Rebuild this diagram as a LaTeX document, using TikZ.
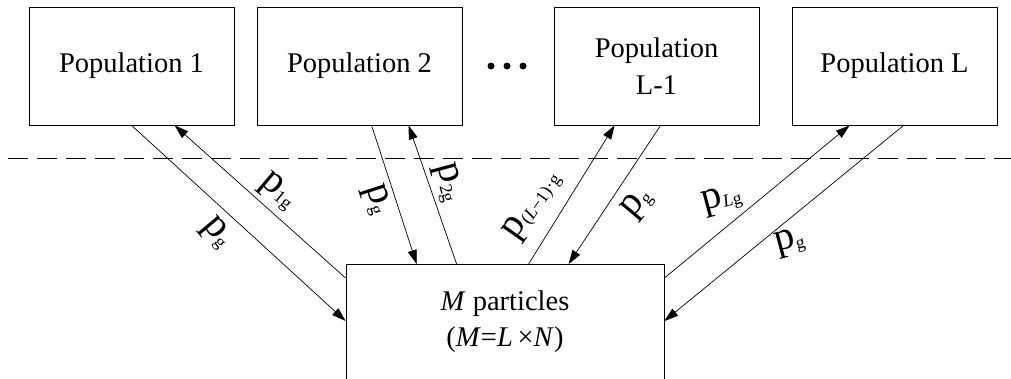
\documentclass[tikz,border=0pt]{standalone}
\usepackage{fontspec}
\setmainfont{Liberation Serif}
\usetikzlibrary{arrows.meta}
\newcommand\plab[1]{{\fontsize{40}{40}\selectfont p}\raisebox{-3pt}{\fontsize{18}{18}\selectfont #1}}
\begin{document}
\begin{tikzpicture}[x=1pt,y=-1pt,
  popbox/.style={draw, line width=0.8pt, minimum width=205pt, minimum height=118pt, inner sep=0pt, align=center,
    font=\fontsize{28.5}{37}\selectfont},
  conn/.style={line width=0.7pt, -{Triangle[length=14pt,width=9pt]}},
  lbl/.style={inner sep=0pt},
  dotnode/.style={circle, fill=black, inner sep=0pt, minimum size=7pt}]
\clip (0,0) rectangle (1011,378);
\fill[white] (0,0) rectangle (1011,378);
\node[popbox] (p1) at (131.5,66) {Population 1};
\node[popbox] (p2) at (359.5,66) {Population 2};
\node[popbox] (p3) at (656.5,66) {Population\\L-1};
\node[popbox] (p4) at (894.5,66) {Population L};
\node[dotnode] (d1) at (491,66) {};
\node[dotnode] (d2) at (507,66) {};
\node[dotnode] (d3) at (523,66) {};
\coordinate (dl) at (8,158);
\coordinate (dr) at (1011,158);
\draw[line width=0.7pt, dash pattern=on 20pt off 9pt] (dl) -- (dr);
\node[draw, line width=0.8pt, minimum width=318pt, minimum height=150pt, anchor=north] (mp) at (505,264) {};
\node[align=center, inner sep=0pt, font=\fontsize{28.5}{36}\selectfont] (mptext) at (505,322)
  {\textit{M} particles\\(\textit{M}=\textit{L}\,×\textit{N})};
% connectors
\draw[conn] ([xshift=103pt]p1.south west) -- ([yshift=-57pt]mp.north west);
\draw[conn] ([yshift=-14pt]mp.north west) -- ([xshift=146pt]p1.south west);
\draw[conn] ([xshift=115pt]p2.south west) -- ([xshift=71pt]mp.north west);
\draw[conn] ([xshift=111pt]mp.north west) -- ([xshift=152pt]p2.south west);
\draw[conn] ([xshift=183pt]mp.north west) -- ([xshift=61pt]p3.south west);
\draw[conn] ([xshift=107pt]p3.south west) -- ([xshift=223pt]mp.north west);
\draw[conn] ([yshift=-14pt]mp.north east) -- ([xshift=58pt]p4.south west);
\draw[conn] ([xshift=112pt]p4.south west) -- ([yshift=-57pt]mp.north east);
% labels
\node[lbl, rotate=-50] (l1) at (216,233) {\plab{g}};
\node[lbl, rotate=-40] (l2) at (277,192) {\plab{1g}};
\node[lbl, rotate=-72] (l3) at (376,200) {\plab{g}};
\node[lbl, rotate=-75] (l4) at (447,183) {\plab{2g}};
\node[lbl, rotate=55] (l5) at (533,206) {\plab{(\textit{L}−1)·g}};
\node[lbl, rotate=50] (l6) at (638,204) {\plab{g}};
\node[lbl, rotate=15] (l7) at (722,200) {\plab{\textit{L}g}};
\node[lbl, rotate=15] (l8) at (790,243) {\plab{g}};
\end{tikzpicture}
\end{document}
